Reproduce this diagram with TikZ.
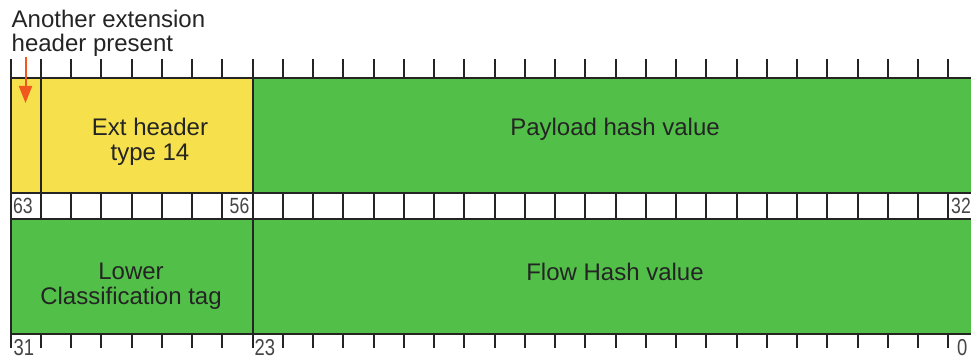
\documentclass[tikz,border=0pt]{standalone}
\usepackage{fontspec}
\setmainfont{Liberation Sans}
\newfontfamily\bitfont[FakeStretch=0.8]{Liberation Sans}
\usetikzlibrary{arrows.meta}
\definecolor{fieldyellow}{RGB}{246,225,76}
\definecolor{fieldgreen}{RGB}{82,192,72}
\definecolor{flagorange}{RGB}{240,88,30}
\definecolor{ink}{RGB}{36,36,36}

\begin{document}
\begin{tikzpicture}[x=1pt,y=-1pt,
  rule/.style={draw=ink,line width=2pt},
  field/.style={rule,inner sep=0pt,outer sep=0pt,anchor=north west,minimum height=115pt},
  bitcell/.style={rule,fill=white,inner sep=0pt,outer sep=0pt,anchor=north west,
                  minimum width=30.25pt,minimum height=26pt},
  fieldtext/.style={text=ink,inner sep=0pt,align=center,font=\fontsize{24}{25}\selectfont},
  bitnum/.style={text=ink!85,inner sep=0pt,font=\bitfont\fontsize{22}{22}\selectfont},
  edgenum/.style={text=ink!85,inner sep=0pt,font=\bitfont\fontsize{23}{23}\selectfont},
  flagarrow/.style={draw=flagorange,line width=2pt,
                    -{Triangle[length=17pt,width=13pt]}}]
\useasboundingbox (0,0) rectangle (971,358);
\clip (0,0) rectangle (971,358);

% upper word: flag bit, extension header type, payload hash
\node[field,fill=fieldyellow,minimum width=30pt]     (flag)     at (10.5,78) {};
\node[field,fill=fieldyellow,minimum width=212pt]    (exttype)  at (40.5,78) {};
\node[field,fill=fieldgreen,minimum width=726pt]     (payload)  at (252.5,78) {};

% bit ruler between the two words
\foreach \k in {0,...,31}
  \node[bitcell] (c\k) at ({10.5+\k*30.25},193) {};

% lower word: classification tag and flow hash
\node[field,fill=fieldgreen,minimum width=242pt]     (lowertag) at (10.5,219) {};
\node[field,fill=fieldgreen,minimum width=726pt]     (flowhash) at (252.5,219) {};

% tick marks above and below
\foreach \k in {0,...,32} {
  \draw[rule] ({10.5+\k*30.25},59) -- ({10.5+\k*30.25},78);
  \draw[rule] ({10.5+\k*30.25},334) -- ({10.5+\k*30.25},348);
}

% field names
\node[fieldtext] (exttext) at (150,142) {Ext header\\type 14};
\node[fieldtext,anchor=base] (payloadtext) at (615,136) {Payload hash value};
\node[fieldtext] (lowertext) at (131,286.5) {Lower\\Classification tag};
\node[fieldtext,anchor=base] (flowtext) at (615,280) {Flow Hash value};

% bit numbers
\node[bitnum,anchor=base west] (b63) at (13,213.5) {63};
\node[bitnum,anchor=base east] (b56) at (249.5,213.5) {56};
\node[bitnum,anchor=base west] (b32) at (951,213.5) {32};
\node[edgenum,anchor=base west] (b31) at (13.5,355) {31};
\node[edgenum,anchor=base west] (b23) at (254.5,355) {23};
\node[edgenum,anchor=base west] (b0)  at (957,355) {0};

% callout for the flag bit
\node[fieldtext,align=left,anchor=north west,font=\fontsize{24}{24}\selectfont]
  (flagnote) at (11.5,9.5) {Another extension\\header present};
\coordinate (arrowtail) at (25.5,57);
\coordinate (arrowtip) at (25.5,103);
\draw[flagarrow] (arrowtail) -- (arrowtip);
\end{tikzpicture}
\end{document}
